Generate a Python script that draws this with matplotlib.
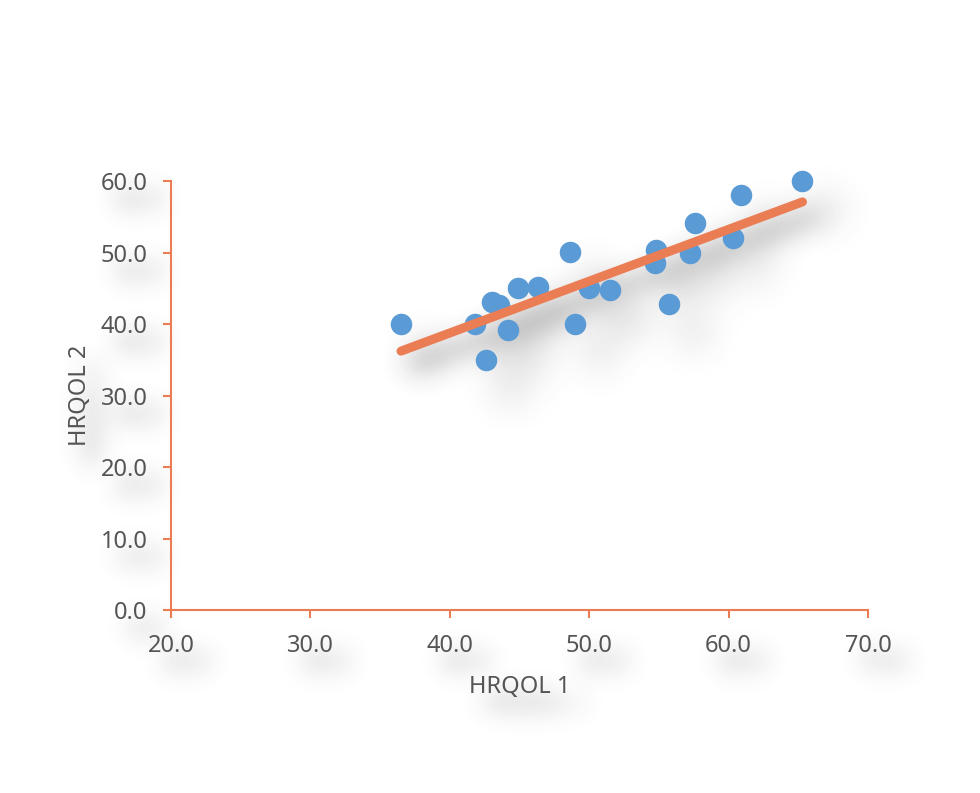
import numpy as np
import matplotlib
matplotlib.use('Agg')
import matplotlib.pyplot as plt

# values
hrqol1 = [36.5, 41.8, 42.6, 43.0, 43.5, 44.2, 44.9, 46.3, 48.6, 49.0,
          50.0, 51.5, 54.8, 54.7, 55.7, 57.2, 57.6, 60.3, 60.9, 65.3]
hrqol2 = [40.0, 40.0, 35.0, 43.1, 42.7, 39.1, 45.1, 45.2, 50.1, 40.0,
          45.0, 44.8, 50.3, 48.5, 42.8, 50.0, 54.1, 52.0, 58.1, 60.0]
xTicks = [20, 30, 40, 50, 60, 70]
yTicks = [0, 10, 20, 30, 40, 50, 60]
xTitle = 'HRQOL 1'
yTitle = 'HRQOL 2'

blue = '#5B9BD5'
orange = '#EB7D55'
grey = '#555555'
fs = 17

plt.rcParams['font.family'] = ['Noto Sans', 'DejaVu Sans']
plt.rcParams['font.weight'] = 'medium'


def blur(a, sigma):
    r = int(3 * sigma)
    k = np.exp(-0.5 * (np.arange(-r, r + 1) / sigma) ** 2)
    k /= k.sum()
    a = np.apply_along_axis(lambda v: np.convolve(v, k, mode='same'), 0, a)
    a = np.apply_along_axis(lambda v: np.convolve(v, k, mode='same'), 1, a)
    return a


def shadow(sigma, dx, dy, alpha, shade=0.3):
    # agg filter: soft grey copy pushed right / down (pixels)
    def f(im, dpi):
        pad = int(3 * sigma + max(abs(dx), abs(dy))) + 2
        a = np.pad(im[:, :, 3], pad)
        a = blur(a, sigma) * alpha
        a = np.roll(np.roll(a, dx, axis=1), dy, axis=0)
        out = np.zeros(a.shape + (4,))
        out[:, :, :3] = shade
        out[:, :, 3] = np.clip(a, 0, 1)
        return out, -pad, -pad
    return f


fig = plt.figure(figsize=(9.8, 7.93), dpi=100)
ax = fig.add_axes([171 / 980, 1 - 610 / 793, 697 / 980, 429 / 793])

# trend line from a least squares fit
coef = np.polyfit(hrqol1, hrqol2, 1)
xs = np.array([min(hrqol1), max(hrqol1)])
ys = np.polyval(coef, xs)

# shadows first
markShadow = shadow(13, 12, 14, 0.65)
ax.scatter(hrqol1, hrqol2, s=15.5 ** 2, color=blue, lw=0, clip_on=False, zorder=2,
           agg_filter=markShadow)
ax.plot(xs, ys, color=orange, lw=6.5, solid_capstyle='round', clip_on=False, zorder=2,
        agg_filter=markShadow)

ax.scatter(hrqol1, hrqol2, s=15.5 ** 2, color=blue, lw=0, clip_on=False, zorder=3)
ax.plot(xs, ys, color=orange, lw=6.5, solid_capstyle='round', clip_on=False, zorder=4)

ax.set_xlim(20, 70)
ax.set_ylim(0, 60)
ax.set_xticks(xTicks)
ax.set_yticks(yTicks)
ax.set_xticklabels(['%.1f' % v for v in xTicks])
ax.set_yticklabels(['%.1f' % v for v in yTicks])

for s in ['top', 'right']:
    ax.spines[s].set_visible(False)
for s in ['left', 'bottom']:
    ax.spines[s].set_color(orange)
    ax.spines[s].set_linewidth(1.5)
ax.tick_params(length=6, width=1.5, color=orange, labelcolor=grey, labelsize=fs, pad=11)

ax.set_xlabel(xTitle, fontsize=fs, color=grey)
ax.set_ylabel(yTitle, fontsize=fs, color=grey)
ax.xaxis.set_label_coords(0.5, -0.152)
ax.yaxis.set_label_coords(-0.113, 0.5)

# soft shadows behind the texts
textShadow = shadow(12, 15, 17, 0.65)
pad = 6 + 11
tx, tva, tha = ax.get_xaxis_text1_transform(pad)
for v in xTicks:
    ax.text(v, 0, '%.1f' % v, transform=tx, va=tva, ha=tha, fontsize=fs,
            color=grey, agg_filter=textShadow, zorder=0)
ty, tva, tha = ax.get_yaxis_text1_transform(pad)
for v in yTicks:
    ax.text(0, v, '%.1f' % v, transform=ty, va=tva, ha=tha, fontsize=fs,
            color=grey, agg_filter=textShadow, zorder=0)
ax.text(0.5, -0.152, xTitle, transform=ax.transAxes, ha='center', va='top',
        fontsize=fs, color=grey, agg_filter=textShadow, zorder=0, clip_on=False)
ax.text(-0.113, 0.5, yTitle, transform=ax.transAxes, ha='center', va='bottom',
        rotation=90, rotation_mode='anchor', fontsize=fs, color=grey,
        agg_filter=textShadow, zorder=0, clip_on=False)

plt.savefig('out.png', dpi=100)
plt.close()
